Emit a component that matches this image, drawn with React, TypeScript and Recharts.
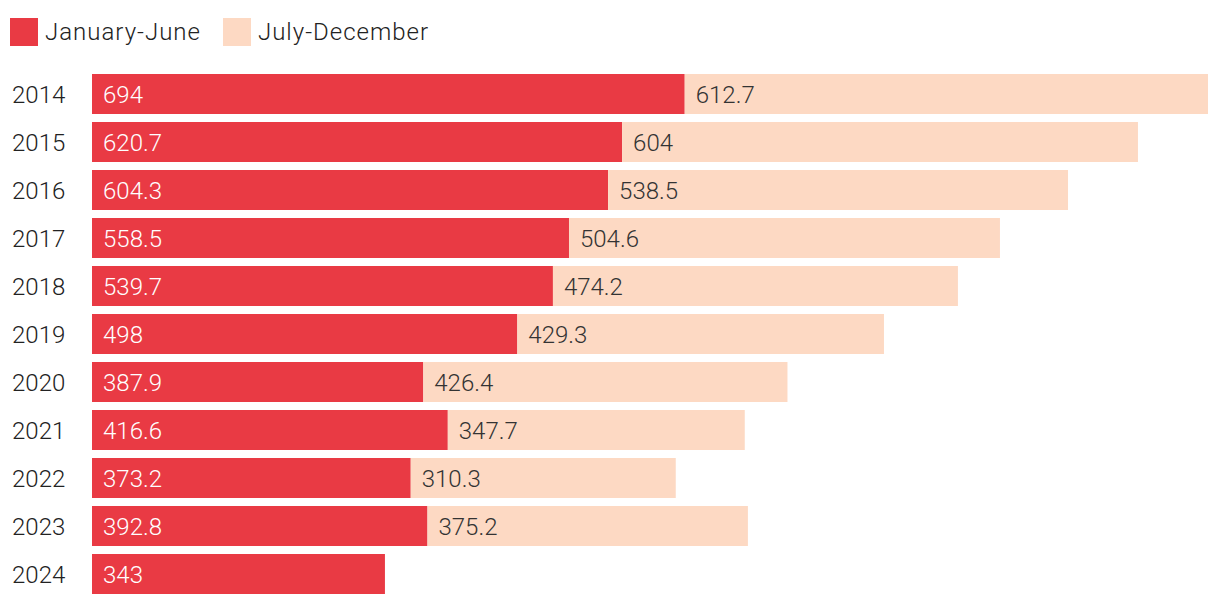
import { Bar, BarChart, LabelList, XAxis, YAxis } from 'recharts'

const YEARS = ['2014', '2015', '2016', '2017', '2018', '2019', '2020', '2021', '2022', '2023', '2024']
const JAN_JUN = [694, 620.7, 604.3, 558.5, 539.7, 498, 387.9, 416.6, 373.2, 392.8, 343]
const JUL_DEC: (number | null)[] = [612.7, 604, 538.5, 504.6, 474.2, 429.3, 426.4, 347.7, 310.3, 375.2, null]

const RED = '#E93A44'
const PEACH = '#FDD9C3'
const FONT = 'Roboto, "Noto Sans", sans-serif'

const rows = YEARS.map((year, i) => ({ year, janJun: JAN_JUN[i], julDec: JUL_DEC[i] }))

const SERIES = [
  { key: 'janJun', name: 'January-June', color: RED, labelColor: '#ffffff' },
  { key: 'julDec', name: 'July-December', color: PEACH, labelColor: '#333333' },
]

// legend drawn as plain HTML so it doesn't eat into the plot area
function LegendRow() {
  return (
    <div
      style={{
        position: 'absolute',
        top: 18,
        left: 10,
        display: 'flex',
        alignItems: 'center',
        fontFamily: FONT,
        fontSize: 24,
        fontWeight: 300,
        letterSpacing: 1,
        color: '#222',
      }}
    >
      {SERIES.map((s) => (
        <div key={s.key} style={{ display: 'flex', alignItems: 'center', marginRight: 22 }}>
          <span style={{ display: 'inline-block', width: 28, height: 28, background: s.color, marginRight: 7 }} />
          <span>{s.name}</span>
        </div>
      ))}
    </div>
  )
}

function YearTick({ y, payload }: { y?: number; payload?: { value: string } }) {
  return (
    <text x={12} y={y} dy={9} fontSize={24} fontWeight={300} fontFamily={FONT} fill="#222" textAnchor="start">
      {payload?.value}
    </text>
  )
}

export default function App() {
  return (
    <div style={{ position: 'absolute', left: 0, top: 0, width: 1220, height: 604, background: '#fff' }}>
      <BarChart
        width={1220}
        height={604}
        data={rows}
        layout="vertical"
        margin={{ top: 70, right: 12, bottom: 6, left: 0 }}
        barSize={40}
      >
        <XAxis type="number" hide domain={[0, 'dataMax']} />
        <YAxis
          type="category"
          dataKey="year"
          width={92}
          axisLine={false}
          tickLine={false}
          tick={<YearTick />}
        />
        {SERIES.map((s) => (
          <Bar key={s.key} dataKey={s.key} name={s.name} stackId="year" fill={s.color} isAnimationActive={false}>
            <LabelList
              dataKey={s.key}
              position="insideLeft"
              offset={11}
              fill={s.labelColor}
              fontSize={24}
              fontWeight={300}
              fontFamily={FONT}
            />
          </Bar>
        ))}
      </BarChart>
      <LegendRow />
    </div>
  )
}
